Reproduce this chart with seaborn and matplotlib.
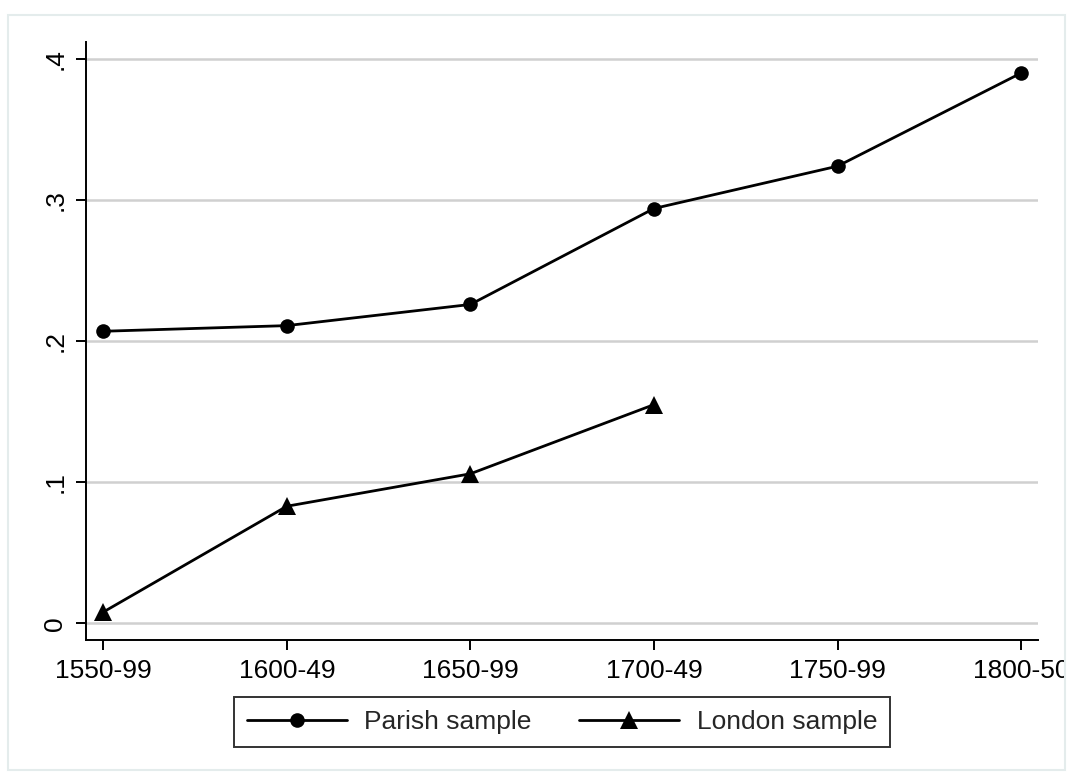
import matplotlib.pyplot as plt
import matplotlib.patches as mpatches
from matplotlib.transforms import Bbox, TransformedBbox
import seaborn as sns
import pandas as pd

periods = ["1550-99", "1600-49", "1650-99", "1700-49", "1750-99", "1800-50"]
parish = [0.207, 0.211, 0.226, 0.294, 0.324, 0.390]
london_periods = ["1550-99", "1600-49", "1650-99", "1700-49"]
london = [0.008, 0.083, 0.106, 0.155]
yticks = [0, 0.1, 0.2, 0.3, 0.4]
ytick_labels = ["0", ".1", ".2", ".3", ".4"]

sns.set_theme(style="white")
plt.rcParams["font.family"] = ["Liberation Sans", "DejaVu Sans"]

fig = plt.figure(figsize=(10.7, 7.76), dpi=100)
ax = fig.add_axes([86 / 1070, 1 - 640 / 776, (1038 - 86) / 1070, (640 - 42) / 776])

parish_df = pd.DataFrame({"period": periods, "share": parish})
london_df = pd.DataFrame({"period": london_periods, "share": london})

sns.lineplot(data=parish_df, x="period", y="share", ax=ax, color="black",
             linewidth=2.0, marker="o", markersize=10.5, markeredgewidth=0,
             label="Parish sample")
sns.lineplot(data=london_df, x="period", y="share", ax=ax, color="black",
             linewidth=2.0, marker="^", markersize=12.5, markeredgewidth=0,
             label="London sample")

ax.set_xlim(-0.094, 5.092)
ax.set_ylim(-0.0118, 0.412)
ax.set_yticks(yticks)
ax.set_yticklabels(ytick_labels, rotation=90, va="center")
ax.set_xlabel("")
ax.set_ylabel("")
ax.grid(axis="y", color="#d0d0d0", linewidth=1.8)
ax.grid(axis="x", visible=False)
ax.set_axisbelow(True)

for side in ["top", "right"]:
    ax.spines[side].set_visible(False)
for side in ["left", "bottom"]:
    ax.spines[side].set_color("black")
    ax.spines[side].set_linewidth(1.4)

ax.tick_params(axis="both", direction="out", length=7.5, width=1.4, color="black",
               labelsize=19, labelcolor="black", pad=6, left=True, bottom=True)

# clip the last tick label at the outer frame, like the original
clip = TransformedBbox(Bbox([[0, 0], [1065 / 1070, 1]]), fig.transFigure)
for lab in ax.get_xticklabels():
    lab.set_clip_on(True)
    lab.set_clip_box(clip)

leg = ax.legend(loc="upper center", bbox_to_anchor=(0.5, -0.095), ncol=2,
                frameon=True, fancybox=False, fontsize=19, handlelength=3.8,
                columnspacing=1.8, handletextpad=0.65, borderpad=0.5,
                borderaxespad=0, edgecolor="black")
leg.get_frame().set_linewidth(1.4)

fig.patches.append(mpatches.Rectangle((8 / 1070, 1 - 770 / 776), 1057 / 1070, 755 / 776,
                                      transform=fig.transFigure, fill=False,
                                      edgecolor="#e4ecec", linewidth=1.5))

fig.savefig("out.png", dpi=100)
